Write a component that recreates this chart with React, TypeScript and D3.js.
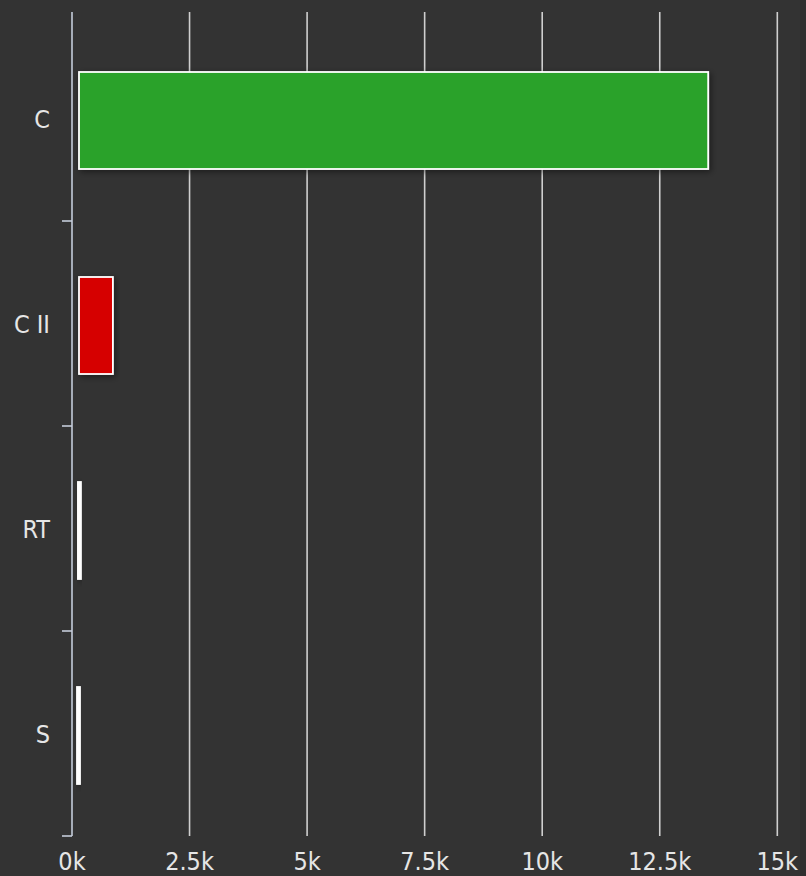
import { useEffect, useRef } from "react";
import * as d3 from "d3";

const CATEGORIES = ["C", "C II", "RT", "S"];
const VALUES = [13530, 870, 190, 170];
const FILLS = ["#2ca22c", "#d60000", "#ffffff", "#ffffff"];
const X_TICKS = [0, 2500, 5000, 7500, 10000, 12500, 15000];
const X_TICK_LABELS = ["0k", "2.5k", "5k", "7.5k", "10k", "12.5k", "15k"];

export default function App() {
  const ref = useRef<HTMLDivElement>(null);

  useEffect(() => {
    if (!ref.current) return;
    const container = ref.current;
    d3.select(container).select("svg").remove();

    const width = 806;
    const height = 876;
    const marginTop = 16;
    const marginBottom = 40;
    const marginLeft = 72;
    const marginRight = 28.7;
    const font = "'DejaVu Sans Condensed', 'DejaVu Sans', sans-serif";

    const x = d3.scaleLinear()
      .domain([0, 15000])
      .range([marginLeft, width - marginRight]);

    const y = d3.scaleBand()
      .domain(CATEGORIES)
      .range([marginTop, height - marginBottom])
      .padding(0);

    const svg = d3.create("svg")
      .attr("width", width)
      .attr("height", height)
      .attr("viewBox", [0, 0, width, height])
      .attr("style", "position:absolute; left:0; top:0; display:block;");

    const defs = svg.append("defs");
    defs.append("filter")
      .attr("id", "shadow")
      .attr("x", "-20%").attr("y", "-20%")
      .attr("width", "140%").attr("height", "140%")
      .append("feDropShadow")
        .attr("dx", 2).attr("dy", 2)
        .attr("stdDeviation", 3)
        .attr("flood-color", "#000")
        .attr("flood-opacity", 0.45);

    svg.append("rect")
      .attr("width", width)
      .attr("height", height)
      .attr("fill", "#333333");
    svg.append("rect")
      .attr("x", width - 6)
      .attr("width", 6)
      .attr("height", height)
      .attr("fill", "#2f2f2f");

    // vertical grid lines
    svg.append("g")
      .attr("stroke", "#cfcfcf")
      .attr("stroke-width", 1.6)
      .selectAll("line")
      .data(X_TICKS.slice(1))
      .join("line")
        .attr("x1", d => x(d))
        .attr("x2", d => x(d))
        .attr("y1", marginTop - 4)
        .attr("y2", height - marginBottom);

    // y axis line + ticks
    const yAxis = svg.append("g").attr("stroke", "#c4ccda").attr("stroke-width", 1.6);
    yAxis.append("line")
      .attr("x1", x(0)).attr("x2", x(0))
      .attr("y1", marginTop - 4)
      .attr("y2", height - marginBottom);
    const boundaries = CATEGORIES.slice(1).map(c => y(c) ?? 0).concat([height - marginBottom]);
    yAxis.selectAll("line.tick")
      .data(boundaries)
      .join("line")
        .attr("class", "tick")
        .attr("x1", x(0) - 10).attr("x2", x(0))
        .attr("y1", d => d).attr("y2", d => d);

    // category labels
    svg.append("g")
      .attr("font-family", font)
      .attr("font-size", 25)
      .attr("fill", "#e6e6e6")
      .attr("text-anchor", "end")
      .selectAll("text")
      .data(CATEGORIES)
      .join("text")
        .attr("x", x(0) - 22)
        .attr("y", d => (y(d) ?? 0) + y.bandwidth() / 2)
        .attr("dy", "0.36em")
        .text(d => d);

    // x tick labels
    svg.append("g")
      .attr("font-family", font)
      .attr("font-size", 25)
      .attr("fill", "#e6e6e6")
      .attr("text-anchor", "middle")
      .selectAll("text")
      .data(X_TICKS)
      .join("text")
        .attr("x", d => x(d))
        .attr("y", height - 6)
        .text((_, i) => X_TICK_LABELS[i]);

    // bars
    const barH = 97;
    const barStart = x(0) + 7;
    const data = CATEGORIES.map((c, i) => ({ c, v: VALUES[i], fill: FILLS[i] }));
    svg.append("g")
      .selectAll("rect")
      .data(data)
      .join("rect")
        .attr("x", d => Math.min(barStart, x(d.v) - 3))
        .attr("y", d => (y(d.c) ?? 0) + y.bandwidth() / 2 - barH / 2 + 2)
        .attr("width", d => x(d.v) - Math.min(barStart, x(d.v) - 3))
        .attr("height", barH)
        .attr("fill", d => d.fill)
        .attr("stroke", "#ffffff")
        .attr("stroke-width", 1.8)
        .attr("filter", "url(#shadow)");

    container.append(svg.node()!);
  }, []);

  return <div ref={ref} />;
}
